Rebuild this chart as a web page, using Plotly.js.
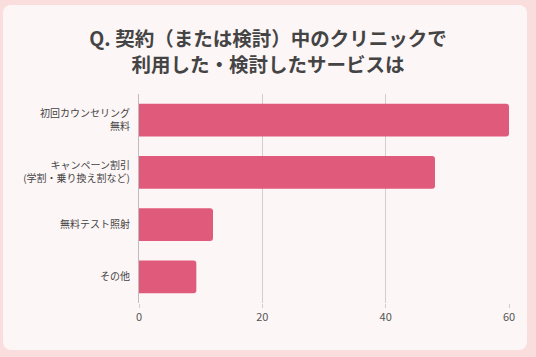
<!DOCTYPE html>
<html><head><meta charset="utf-8">
<script src="https://cdn.plot.ly/plotly-3.0.1.min.js"></script>
<style>
html,body{margin:0;padding:0;width:536px;height:357px;overflow:hidden;background:#f9dedd;}
#card{position:absolute;left:3px;top:5px;width:524px;height:345px;border-radius:8px;background:#fdf6f6;}
#chart{position:absolute;left:0;top:0;width:536px;height:357px;}
</style></head>
<body>
<div id="card"></div>
<div id="chart"></div>
<script>
const categories = ["初回カウンセリング<br>無料", "キャンペーン割引<br>(学割・乗り換え割など)", "無料テスト照射", "その他"];
const values = [60, 48, 12, 9.3];
const tickVals = [0, 20, 40, 60];
const titleText = "Q. 契約（または検討）中のクリニックで<br>利用した・検討したサービスは";

const font = "Noto Sans CJK JP, Noto Sans, sans-serif";
Plotly.newPlot("chart", [{
  type: "bar", orientation: "h",
  y: categories, x: values,
  width: 0.63,
  marker: {color: "#e05a7b", cornerradius: 3},
  hoverinfo: "none"
}], {
  width: 536, height: 357,
  paper_bgcolor: "rgba(0,0,0,0)", plot_bgcolor: "rgba(0,0,0,0)",
  margin: {l: 139, r: 27, t: 94, b: 54},
  title: {text: titleText, x: 0.5, xanchor: "center", y: 0.87, yanchor: "top",
          font: {family: font, size: 19.5, color: "#444", weight: "bold"}},
  xaxis: {range: [0, 60], tickvals: tickVals, showgrid: true, gridcolor: "#cfcfcf",
          zeroline: false, ticks: "outside", ticklen: 4, tickcolor: "#cfcfcf",
          tickfont: {family: font, size: 11, color: "#555"}, fixedrange: true},
  yaxis: {autorange: "reversed", showgrid: false, zeroline: false, ticks: "", ticklabelstandoff: 6,
          showline: true, linecolor: "#bdbdbd", linewidth: 1,
          tickfont: {family: font, size: 10, color: "#444"}, fixedrange: true},
  showlegend: false, bargap: 0.37
}, {staticPlot: true});
</script>
</body></html>
